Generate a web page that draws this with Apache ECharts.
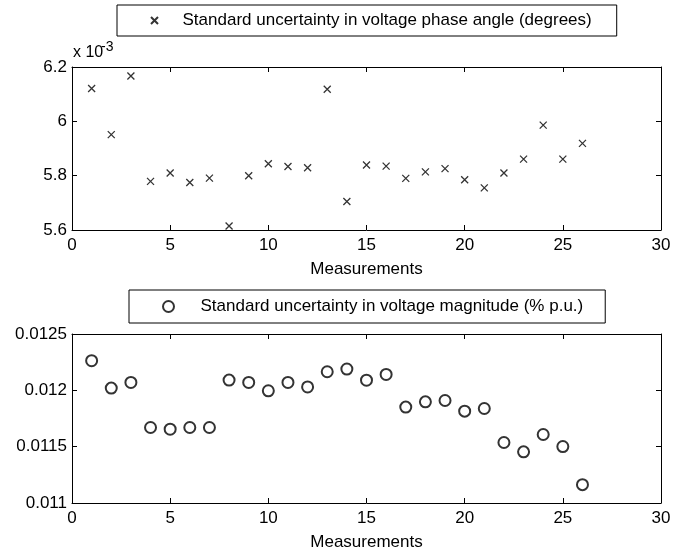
<!DOCTYPE html>
<html>
<head>
<meta charset="utf-8">
<script src="https://cdn.jsdelivr.net/npm/echarts@6/dist/echarts.min.js"></script>
<style>html,body{margin:0;padding:0;background:#fff}#c{width:684px;height:553px}</style>
</head>
<body>
<div id="c"></div>
<script>
// Data
var measurements = [1,2,3,4,5,6,7,8,9,10,11,12,13,14,15,16,17,18,19,20,21,22,23,24,25,26];
// phase angle uncertainty, in units of 1e-3 degrees
var phaseAngle = [6.121,5.951,6.167,5.779,5.810,5.775,5.791,5.615,5.800,5.844,5.834,5.829,6.118,5.705,5.839,5.835,5.790,5.814,5.826,5.785,5.755,5.810,5.861,5.986,5.861,5.919];
// voltage magnitude uncertainty (% p.u.)
var magnitude = [0.012263,0.01202,0.01207,0.01167,0.011655,0.01167,0.01167,0.012091,0.01207,0.011996,0.01207,0.01203,0.012165,0.012189,0.01209,0.012141,0.011851,0.011898,0.01191,0.011815,0.011839,0.011537,0.011454,0.011608,0.011501,0.011163];
var xTicks = {min: 0, max: 30, interval: 5};
var yTicksTop = {min: 5.6, max: 6.2, interval: 0.2};
var yTicksBottom = {min: 0.011, max: 0.0125, interval: 0.0005};
var seriesNames = ['Standard uncertainty in voltage phase angle (degrees)', 'Standard uncertainty in voltage magnitude (% p.u.)'];

var FONT = 'Liberation Sans, Arial, sans-serif';
var txt = {color: '#000', fontFamily: FONT, fontSize: 17};
var crossPath = 'path://M0,0L10,10M10,0L0,10';

function pairs(xs, ys) { return xs.map(function (x, i) { return [x, ys[i]]; }); }

function xAx(gi, pos, labels) {
  return {
    type: 'value', gridIndex: gi, position: pos, min: xTicks.min, max: xTicks.max, interval: xTicks.interval,
    axisLine: {show: true, onZero: false, lineStyle: {color: '#000', width: 1}},
    axisTick: {show: true, inside: true, length: 5, lineStyle: {color: '#000'}},
    axisLabel: labels ? Object.assign({show: true, margin: 7}, txt) : {show: false},
    splitLine: {show: false},
    name: labels ? 'Measurements' : '', nameLocation: 'middle', nameGap: 31, nameTextStyle: txt
  };
}
function yAx(gi, pos, t, labels) {
  return {
    type: 'value', gridIndex: gi, position: pos, min: t.min, max: t.max, interval: t.interval,
    axisLine: {show: true, onZero: false, lineStyle: {color: '#000', width: 1}},
    axisTick: {show: true, inside: true, length: 5, lineStyle: {color: '#000'}},
    axisLabel: labels ? Object.assign({show: true, margin: 5}, txt) : {show: false},
    splitLine: {show: false}
  };
}

var chart = echarts.init(document.getElementById('c'));
chart.setOption({
  animation: false,
  backgroundColor: '#fff',
  textStyle: {fontFamily: FONT},
  grid: [
    {left: 72, right: 23, top: 67, height: 163},
    {left: 72, right: 23, top: 334, height: 169}
  ],
  xAxis: [xAx(0, 'bottom', true), xAx(0, 'top', false), xAx(1, 'bottom', true), xAx(1, 'top', false)],
  yAxis: [yAx(0, 'left', yTicksTop, true), yAx(0, 'right', yTicksTop, false), yAx(1, 'left', yTicksBottom, true), yAx(1, 'right', yTicksBottom, false)],
  legend: [
    {
      data: [seriesNames[0]], left: 117, top: 5, orient: 'horizontal',
      borderColor: '#000', borderWidth: 1, padding: [7, 25, 7, 33],
      itemWidth: 46, itemHeight: 7, textStyle: txt, selectedMode: false
    },
    {
      data: [seriesNames[1]], left: 129, top: 290, orient: 'horizontal',
      borderColor: '#000', borderWidth: 1, padding: [8, 22, 8, 33],
      itemWidth: 54, itemHeight: 11, textStyle: txt, selectedMode: false
    }
  ],
  graphic: [
    {type: 'text', left: 73, top: 45, style: {text: 'x 10', fill: '#000', font: '16px ' + FONT}},
    {type: 'text', left: 101, top: 40, style: {text: '-3', fill: '#000', font: '14px ' + FONT}}
  ],
  series: [
    {
      name: seriesNames[0], type: 'scatter', xAxisIndex: 0, yAxisIndex: 0,
      data: pairs(measurements, phaseAngle), symbol: crossPath, symbolSize: 7,
      itemStyle: {color: 'rgba(0,0,0,0)', borderColor: '#000', borderWidth: 1.3}
    },
    {
      name: seriesNames[1], type: 'scatter', xAxisIndex: 2, yAxisIndex: 2,
      data: pairs(measurements, magnitude), symbol: 'emptyCircle', symbolSize: 11,
      itemStyle: {color: '#000', borderColor: '#000', borderWidth: 1.5}
    }
  ]
});
</script>
</body>
</html>
